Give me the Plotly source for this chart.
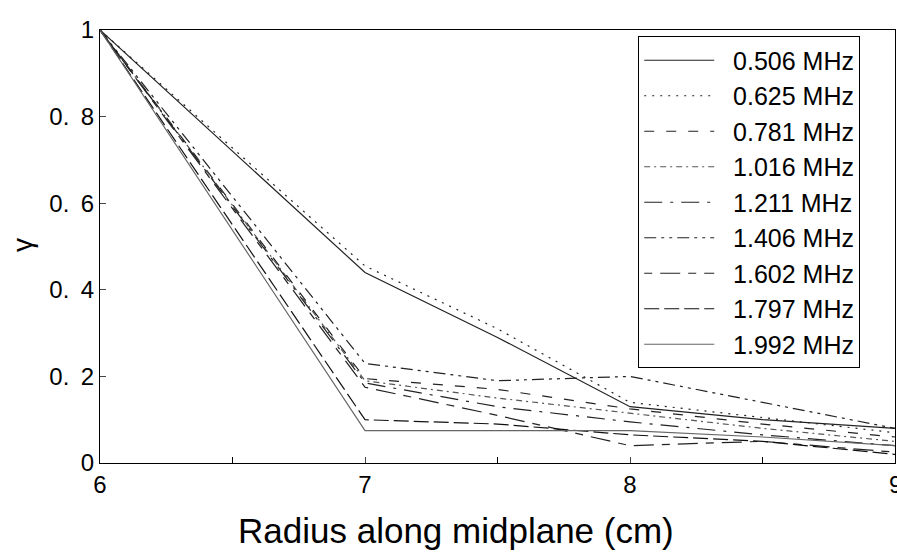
import plotly.graph_objects as go

radius = [6, 7, 7.5, 8, 8.5, 9]
series_names = ["0.506 MHz", "0.625 MHz", "0.781 MHz", "1.016 MHz", "1.211 MHz",
                "1.406 MHz", "1.602 MHz", "1.797 MHz", "1.992 MHz"]
g_0506 = [1.0, 0.44, 0.29, 0.13, 0.10, 0.08]
g_0625 = [1.0, 0.455, 0.31, 0.14, 0.105, 0.07]
g_0781 = [1.0, 0.195, 0.17, 0.125, 0.09, 0.06]
g_1016 = [1.0, 0.19, 0.15, 0.115, 0.08, 0.05]
g_1211 = [1.0, 0.185, 0.13, 0.095, 0.065, 0.04]
g_1406 = [1.0, 0.23, 0.19, 0.20, 0.14, 0.08]
g_1602 = [1.0, 0.175, 0.11, 0.04, 0.05, 0.025]
g_1797 = [1.0, 0.10, 0.09, 0.065, 0.05, 0.02]
g_1992 = [1.0, 0.075, 0.075, 0.075, 0.06, 0.04]
values = [g_0506, g_0625, g_0781, g_1016, g_1211, g_1406, g_1602, g_1797, g_1992]

dashes = ["solid", "2px,6px", "10px,12px", "6px,4px,2px,4px", "18px,8px,3px,8px",
          "12px,5px,3px,5px,3px,5px", "8px,8px,20px,8px", "15px,5px", "solid"]
colors = ["#222222", "#222222", "#222222", "#555555", "#222222",
          "#222222", "#222222", "#111111", "#666666"]

y_ticks = [0, 0.2, 0.4, 0.6, 0.8, 1]
y_ticktext = ["0", "0.\u2009 2", "0.\u2009 4", "0.\u2009 6", "0.\u2009 8", "1"]
x_ticks = [6, 7, 8, 9]
x_title = "Radius along midplane (cm)"
y_title = "γ"

fig = go.Figure()
for i, (name, vals) in enumerate(zip(series_names, values)):
    fig.add_trace(go.Scatter(x=radius, y=vals, mode="lines", name="\u00a0\u00a0" + name,
                             legendgroup=f"g{i}",
                             line=dict(color=colors[i], width=1.2, dash=dashes[i])))

font_family = "Liberation Sans, Arial, sans-serif"
fig.update_layout(
    width=897, height=552,
    margin=dict(l=100, r=2, t=30, b=89),
    paper_bgcolor="white", plot_bgcolor="white",
    font=dict(family=font_family, color="black", size=24),
    showlegend=True,
    legend=dict(x=0.677, y=0.985, xanchor="left", yanchor="top",
                bordercolor="black", borderwidth=1, bgcolor="white",
                font=dict(size=25), itemwidth=70, tracegroupgap=2.8,
                traceorder="normal"),
    xaxis=dict(range=[6, 9], tickvals=x_ticks, ticks="inside", ticklen=6,
               showline=True, linecolor="black", linewidth=1, mirror=True,
               showgrid=False, zeroline=False, tickfont=dict(size=24),
               minor=dict(tickvals=[6.5, 7.5, 8.5], ticks="inside", ticklen=6, tickcolor="black")),
    yaxis=dict(range=[0, 1], tickvals=y_ticks, ticktext=y_ticktext, ticks="inside", ticklen=6,
               showline=True, linecolor="black", linewidth=1, mirror=True,
               showgrid=False, zeroline=False, tickfont=dict(size=24)),
    annotations=[
        dict(x=9, y=0, xref="x", yref="paper", text="9", showarrow=False,
             xanchor="center", yanchor="top", yshift=-6, font=dict(size=24)),
        dict(x=(456 - 100) / 795, y=-(530 - 463) / 433, xref="paper", yref="paper",
             text=x_title, showarrow=False,
             xanchor="center", yanchor="middle", font=dict(size=35)),
        dict(x=-(100 - 22) / 795, y=(463 - 245) / 433, xref="paper", yref="paper",
             text=y_title, showarrow=False, textangle=-90,
             xanchor="center", yanchor="middle", font=dict(size=28)),
    ],
)
fig.write_html("out.html")
